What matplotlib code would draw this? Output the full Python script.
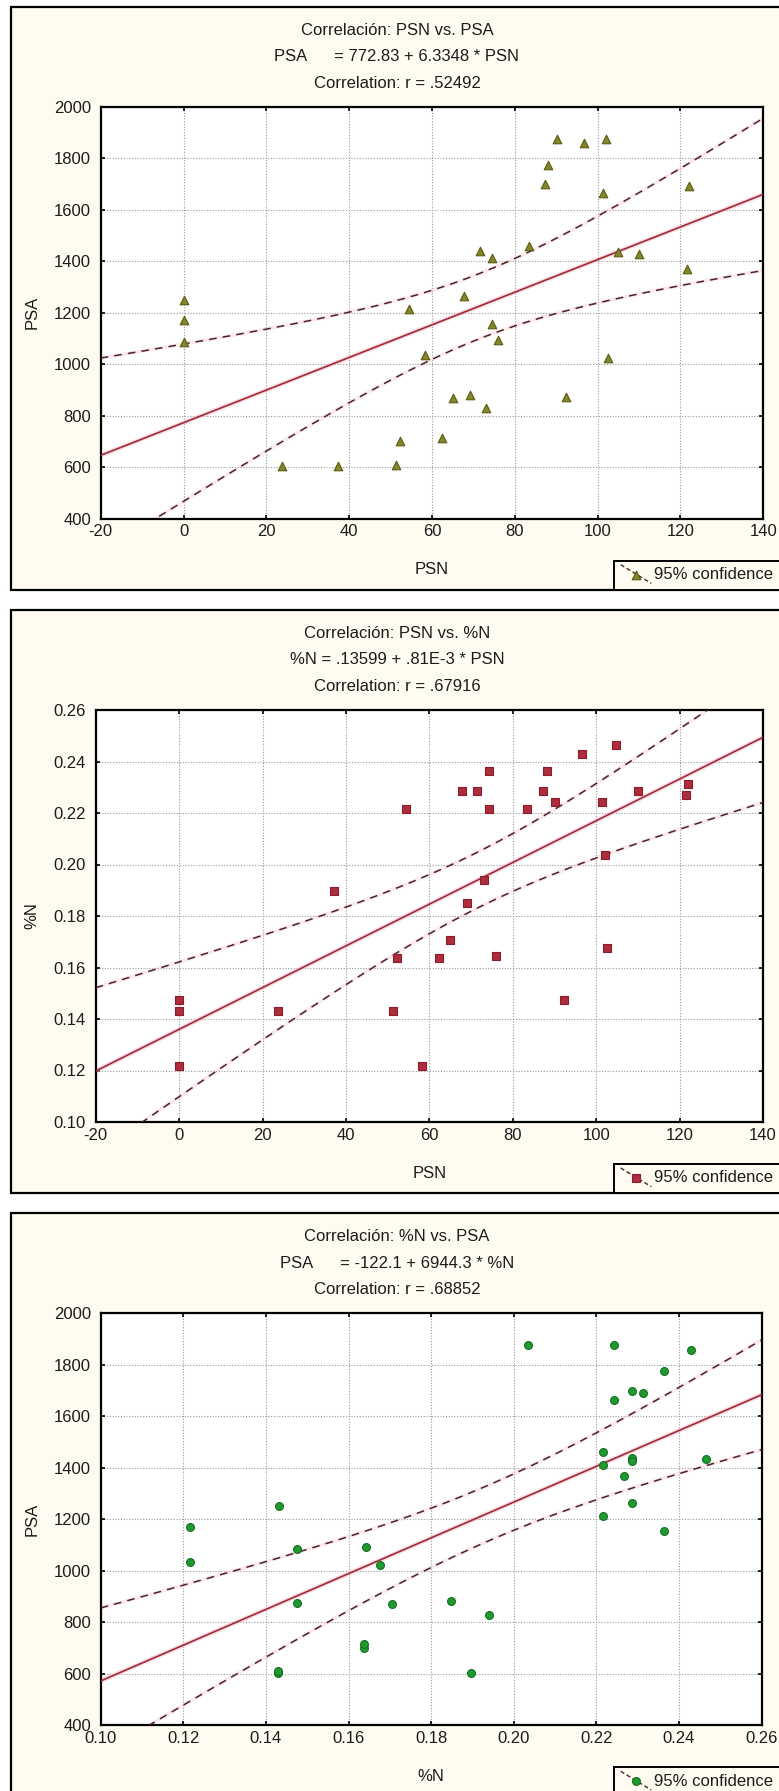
import numpy as np
import matplotlib
matplotlib.use("Agg")
import matplotlib.pyplot as plt
from matplotlib.patches import Rectangle
from matplotlib.ticker import FormatStrFormatter

plt.rcParams['font.family'] = ['Liberation Sans', 'DejaVu Sans']

# one entry per sample (same samples in each)
psn = [0, 0, 0, 23.7, 37.2, 51.2, 52.3, 54.4, 58.2, 62.4, 65.0, 67.8, 69.1, 71.5, 73.0, 74.4,
       74.4, 76.0, 83.4, 87.3, 88.1, 90.1, 92.4, 96.7, 101.3, 102.1, 102.6, 104.8, 110.1, 121.5, 122.1]
psa = [1250, 1170, 1085, 604, 604, 609, 702, 1214, 1034, 714, 870, 1265, 881, 1440, 830, 1411,
       1155, 1093, 1460, 1698, 1775, 1876, 874, 1858, 1665, 1876, 1023, 1436, 1428, 1370, 1691]
pct_n = [0.1431, 0.1216, 0.1475, 0.1430, 0.1896, 0.1430, 0.1637, 0.2217, 0.1216, 0.1637, 0.1706,
         0.2287, 0.1849, 0.2287, 0.1940, 0.2217, 0.2363, 0.1643, 0.2217, 0.2287, 0.2363, 0.2242,
         0.1475, 0.2429, 0.2242, 0.2035, 0.1677, 0.2466, 0.2287, 0.2268, 0.2312]

# printed regression results (intercept, slope)
fit_psn_psa = (772.83, 6.3348)
fit_psn_n = (0.13599, 0.81e-3)
fit_n_psa = (-122.1, 6944.3)

titles_psn_psa = ["Correlación: PSN vs. PSA", "PSA      = 772.83 + 6.3348 * PSN", "Correlation: r = .52492"]
titles_psn_n = ["Correlación: PSN vs. %N", "%N = .13599 + .81E-3 * PSN", "Correlation: r = .67916"]
titles_n_psa = ["Correlación: %N vs. PSA", "PSA      = -122.1 + 6944.3 * %N", "Correlation: r = .68852"]

psn_ticks = [-20, 0, 20, 40, 60, 80, 100, 120, 140]
psa_ticks = [400, 600, 800, 1000, 1200, 1400, 1600, 1800, 2000]
n_ticks = [0.10, 0.12, 0.14, 0.16, 0.18, 0.20, 0.22, 0.24, 0.26]

legend_label = "95% confidence"
T_CRIT = 2.045  # t(0.975), df = 29

CREAM = '#FFFBF0'
LINE_RED = '#A02A3A'
BAND = '#4A2228'
HALO = '#F3B9C2'
TXT = '#1c1c1c'
DASH = (0, (5, 4))

W, H = 779, 1791
fig = plt.figure(figsize=(W / 100, H / 100), dpi=100)
fig.patch.set_facecolor('white')


def fx(px):
    return px / W


def fy(py):
    return 1 - py / H


def panel(top, left, right, x, y, fit, titles, xlabel, ylabel, xticks, yticks, xfmt, yfmt,
          marker, mface, medge, msize):
    bottom = top + 583
    ptop, pbot = top + 100, top + 512
    fig.patches.append(Rectangle((fx(10.7), fy(bottom)), fx(800 - 10.7), (bottom - top) / H,
                                 transform=fig.transFigure, facecolor=CREAM, edgecolor='black',
                                 lw=1.6, zorder=-10))
    for i, t in enumerate(titles):
        fig.text(fx(397), fy(top + 23.4 + 26.6 * i), t, ha='center', va='center', fontsize=12, color=TXT)

    ax = fig.add_axes([fx(left), fy(pbot), fx(right - left), (pbot - ptop) / H])
    ax.set_facecolor('white')
    x = np.array(x)
    y = np.array(y)
    a, b = fit
    xs = np.linspace(xticks[0], xticks[-1], 300)
    yhat = a + b * xs
    n = len(x)
    s = np.sqrt(np.sum((y - (a + b * x)) ** 2) / (n - 2))
    sxx = np.sum((x - x.mean()) ** 2)
    half = T_CRIT * s * np.sqrt(1 / n + (xs - x.mean()) ** 2 / sxx)

    ax.plot(xs, yhat, color=HALO, lw=3.2, alpha=0.5, zorder=2)
    for yy in [yhat + half, yhat - half]:
        ax.plot(xs, yy, color=HALO, lw=2.6, alpha=0.3, zorder=2)
    ax.plot(xs, yhat, color=LINE_RED, lw=1.2, zorder=3)
    ax.plot(xs, yhat + half, color=BAND, lw=1.1, ls=DASH, zorder=3)
    ax.plot(xs, yhat - half, color=BAND, lw=1.1, ls=DASH, zorder=3)
    ax.scatter(x, y, marker=marker, s=msize, c=mface, edgecolors=medge, linewidths=0.8, zorder=4)

    ax.set_xlim(xticks[0], xticks[-1])
    ax.set_ylim(yticks[0], yticks[-1])
    ax.set_xticks(xticks)
    ax.set_yticks(yticks)
    ax.xaxis.set_major_formatter(FormatStrFormatter(xfmt))
    ax.yaxis.set_major_formatter(FormatStrFormatter(yfmt))
    ax.grid(True, color='#9a9a9a', ls=(0, (1, 1.5)), lw=0.8)
    ax.set_axisbelow(True)
    ax.tick_params(direction='in', length=3, width=1.2, top=True, right=True,
                   labelsize=12, labelcolor=TXT)
    ax.tick_params(axis='x', pad=4)
    ax.tick_params(axis='y', pad=7)
    for sp in ax.spines.values():
        sp.set_linewidth(1.6)

    fig.text(fx((left + right) / 2), fy(pbot + 51), xlabel, ha='center', va='center', fontsize=12, color=TXT)
    fig.text(fx(32), fy((ptop + pbot) / 2), ylabel, ha='center', va='center', rotation=90,
             fontsize=12, color=TXT)

    # legend box at bottom-right of the panel
    lg_top = pbot + 42
    lg = fig.add_axes([fx(614), fy(bottom), fx(800 - 614), (bottom - lg_top) / H])
    lg.set_facecolor(CREAM)
    lg.set_xlim(614, 800)
    lg.set_ylim(bottom, lg_top)
    lg.set_xticks([])
    lg.set_yticks([])
    for sp in lg.spines.values():
        sp.set_linewidth(1.4)
    lg.plot([620.7, 651.3], [lg_top + 4, lg_top + 22.7], color=BAND, lw=1.0, ls=(0, (3, 2)))
    lg.scatter([636], [lg_top + 14], marker=marker, s=msize, c=mface, edgecolors=medge,
               linewidths=0.8, zorder=4)
    lg.text(654, lg_top + 14, legend_label, ha='left', va='center', fontsize=12, color=TXT)
    return ax


panel(6.7, 100.7, 763.3, psn, psa, fit_psn_psa, titles_psn_psa, "PSN", "PSA",
      psn_ticks, psa_ticks, '%d', '%d', '^', '#85862A', '#5C5C12', 38)
panel(610, 95.7, 763, psn, pct_n, fit_psn_n, titles_psn_n, "PSN", "%N",
      psn_ticks, n_ticks, '%d', '%.2f', 's', '#AE2C3C', '#8A1E2C', 32)
panel(1213.3, 100.7, 761.5, pct_n, psa, fit_n_psa, titles_n_psa, "%N", "PSA",
      n_ticks, psa_ticks, '%.2f', '%d', 'o', '#1E9A30', '#13701F', 32)

fig.savefig("out.png", dpi=100)
